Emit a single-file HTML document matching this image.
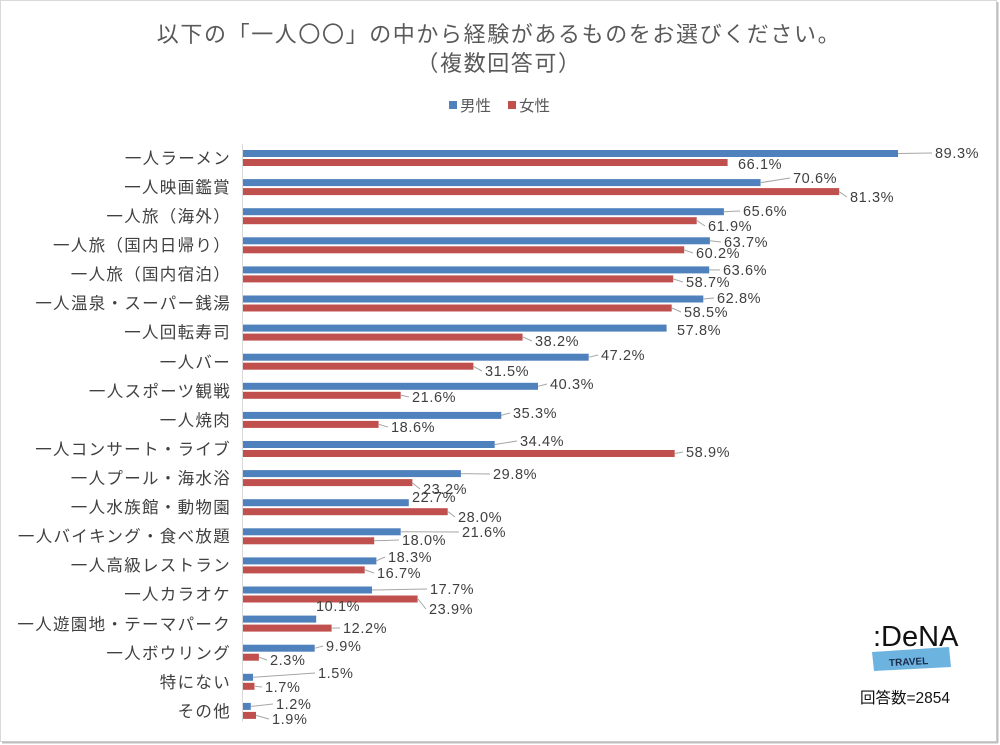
<!DOCTYPE html>
<html><head><meta charset="utf-8"><style>
body{margin:0;background:#fff}
svg{display:block;font-family:"Liberation Sans","Noto Sans CJK JP",sans-serif}
</style></head><body>
<svg width="1000" height="745" viewBox="0 0 1000 745" xmlns="http://www.w3.org/2000/svg">
<rect x="0.5" y="0.5" width="996" height="741" fill="#fff" stroke="#d9d9d9"/>
<line x1="997.5" y1="2" x2="997.5" y2="743" stroke="#bfbfbf" stroke-width="2"/>
<line x1="2" y1="742.5" x2="998" y2="742.5" stroke="#bfbfbf" stroke-width="2"/>
<g fill="#595959" font-size="22" text-anchor="middle" letter-spacing="1.6">
<text x="499" y="42">以下の「一人〇〇」の中から経験があるものをお選びください。</text>
<text x="499" y="71">（複数回答可）</text>
</g>
<rect x="449" y="101" width="8" height="8" fill="#4f81bd"/>
<text x="460" y="111" font-size="15.5" fill="#595959">男性</text>
<rect x="508" y="101" width="8" height="8" fill="#c0504d"/>
<text x="519" y="111" font-size="15.5" fill="#595959">女性</text>

<g fill="#4f81bd">
<rect x="242" y="150" width="656" height="7"/>
<rect x="242" y="179.1" width="518.6" height="7"/>
<rect x="242" y="208.2" width="481.9" height="7"/>
<rect x="242" y="237.3" width="467.9" height="7"/>
<rect x="242" y="266.4" width="467.2" height="7"/>
<rect x="242" y="295.5" width="461.3" height="7"/>
<rect x="242" y="324.6" width="424.6" height="7"/>
<rect x="242" y="353.7" width="346.7" height="7"/>
<rect x="242" y="382.8" width="296" height="7"/>
<rect x="242" y="411.9" width="259.3" height="7"/>
<rect x="242" y="441" width="252.7" height="7"/>
<rect x="242" y="470.1" width="218.9" height="7"/>
<rect x="242" y="499.2" width="166.8" height="7"/>
<rect x="242" y="528.3" width="158.7" height="7"/>
<rect x="242" y="557.4" width="134.4" height="7"/>
<rect x="242" y="586.5" width="130" height="7"/>
<rect x="242" y="615.6" width="74.2" height="7"/>
<rect x="242" y="644.7" width="72.7" height="7"/>
<rect x="242" y="673.8" width="11" height="7"/>
<rect x="242" y="702.9" width="8.8" height="7"/>
</g>
<g fill="#c0504d">
<rect x="242" y="159" width="485.6" height="7"/>
<rect x="242" y="188.1" width="597.2" height="7"/>
<rect x="242" y="217.2" width="454.7" height="7"/>
<rect x="242" y="246.3" width="442.2" height="7"/>
<rect x="242" y="275.4" width="431.2" height="7"/>
<rect x="242" y="304.5" width="429.7" height="7"/>
<rect x="242" y="333.6" width="280.6" height="7"/>
<rect x="242" y="362.7" width="231.4" height="7"/>
<rect x="242" y="391.8" width="158.7" height="7"/>
<rect x="242" y="420.9" width="136.6" height="7"/>
<rect x="242" y="450" width="432.7" height="7"/>
<rect x="242" y="479.1" width="170.4" height="7"/>
<rect x="242" y="508.2" width="205.7" height="7"/>
<rect x="242" y="537.3" width="132.2" height="7"/>
<rect x="242" y="566.4" width="122.7" height="7"/>
<rect x="242" y="595.5" width="175.6" height="7"/>
<rect x="242" y="624.6" width="89.6" height="7"/>
<rect x="242" y="653.7" width="16.9" height="7"/>
<rect x="242" y="682.8" width="12.5" height="7"/>
<rect x="242" y="711.9" width="14" height="7"/>
</g>
<line x1="242.5" y1="144" x2="242.5" y2="722" stroke="#d9d9d9"/>

<g stroke="#a6a6a6" stroke-width="1" fill="none">
<path d="M898 153.5L932 153"/><path d="M761 182.6L790 178"/><path d="M724 211.7L740 211"/>
<path d="M710 240.8L721 242"/><path d="M709 269.9L720 270"/><path d="M703 299L714 298"/>
<path d="M589 357.2L598 355"/><path d="M538 386.3L547 384"/><path d="M501 415.4L510 413"/>
<path d="M495 444.5L517 441"/><path d="M461 473.6L490 474"/><path d="M401 531.8L459 532"/>
<path d="M376 560.9L385 557"/><path d="M372 590L427 589"/><path d="M315 648.2L323 646"/>
<path d="M253 677.3L315 673"/><path d="M251 706.4L273 704"/>
<path d="M839 191.6L847 197"/><path d="M697 220.7L705 226"/><path d="M684 249.8L693 253"/>
<path d="M673 278.9L683 282"/><path d="M672 308L681 312"/><path d="M523 337.1L532 341"/>
<path d="M473 366.2L482 371"/><path d="M401 395.3L409 397"/><path d="M379 424.4L388 427"/>
<path d="M675 453.5L683 452"/><path d="M412 482.6L420 489"/><path d="M448 511.7L455 517"/>
<path d="M374 540.8L399 540"/><path d="M365 569.9L374 573"/><path d="M418 599L426 609"/>
<path d="M332 628.1L340 628"/><path d="M259 657.2L267 660"/><path d="M255 686.3L262 687"/>
<path d="M256 715.4L269 719"/>
</g>

<g font-size="14.5" fill="#404040" letter-spacing="0.6">
<text x="935" y="158">89.3%</text><text x="738" y="169">66.1%</text>
<text x="793" y="183">70.6%</text><text x="850" y="202">81.3%</text>
<text x="743" y="216">65.6%</text><text x="708" y="231">61.9%</text>
<text x="724" y="247">63.7%</text><text x="696" y="258">60.2%</text>
<text x="723" y="275">63.6%</text><text x="686" y="287">58.7%</text>
<text x="717" y="303">62.8%</text><text x="684" y="317">58.5%</text>
<text x="677" y="335">57.8%</text><text x="535" y="346">38.2%</text>
<text x="601" y="360">47.2%</text><text x="485" y="376">31.5%</text>
<text x="550" y="389">40.3%</text><text x="412" y="402">21.6%</text>
<text x="513" y="418">35.3%</text><text x="391" y="432">18.6%</text>
<text x="520" y="446">34.4%</text><text x="686" y="457">58.9%</text>
<text x="493" y="479">29.8%</text><text x="423" y="494">23.2%</text>
<text x="412" y="502">22.7%</text><text x="458" y="522">28.0%</text>
<text x="462" y="537">21.6%</text><text x="402" y="545">18.0%</text>
<text x="388" y="562">18.3%</text><text x="377" y="578">16.7%</text>
<text x="430" y="594">17.7%</text><text x="429" y="614">23.9%</text>
<text x="316" y="611">10.1%</text><text x="343" y="633">12.2%</text>
<text x="326" y="651">9.9%</text><text x="270" y="665">2.3%</text>
<text x="318" y="678">1.5%</text><text x="265" y="692">1.7%</text>
<text x="276" y="709">1.2%</text><text x="272" y="724">1.9%</text>
</g>

<g font-size="16.5" fill="#404040" text-anchor="end" letter-spacing="1.3">
<text x="231" y="164">一人ラーメン</text>
<text x="231" y="193">一人映画鑑賞</text>
<text x="231" y="222">一人旅（海外）</text>
<text x="231" y="251">一人旅（国内日帰り）</text>
<text x="231" y="280">一人旅（国内宿泊）</text>
<text x="231" y="309">一人温泉・スーパー銭湯</text>
<text x="231" y="338">一人回転寿司</text>
<text x="231" y="368">一人バー</text>
<text x="231" y="397">一人スポーツ観戦</text>
<text x="231" y="426">一人焼肉</text>
<text x="231" y="455">一人コンサート・ライブ</text>
<text x="231" y="484">一人プール・海水浴</text>
<text x="231" y="513">一人水族館・動物園</text>
<text x="231" y="542">一人バイキング・食べ放題</text>
<text x="231" y="571">一人高級レストラン</text>
<text x="231" y="600">一人カラオケ</text>
<text x="231" y="630">一人遊園地・テーマパーク</text>
<text x="231" y="659">一人ボウリング</text>
<text x="231" y="688">特にない</text>
<text x="231" y="717">その他</text>
</g>

<text x="873" y="646" font-size="29" fill="#111">:DeNA</text>
<polygon points="872,652 949,647 951,667 874,671" fill="#6db3e0"/>
<text x="889" y="665" font-size="10" font-weight="bold" fill="#1a2a4a" transform="rotate(-3 910 662)">TRAVEL</text>
<text x="860" y="703" font-size="15.5" fill="#111">回答数=2854</text>
</svg>
</body></html>
